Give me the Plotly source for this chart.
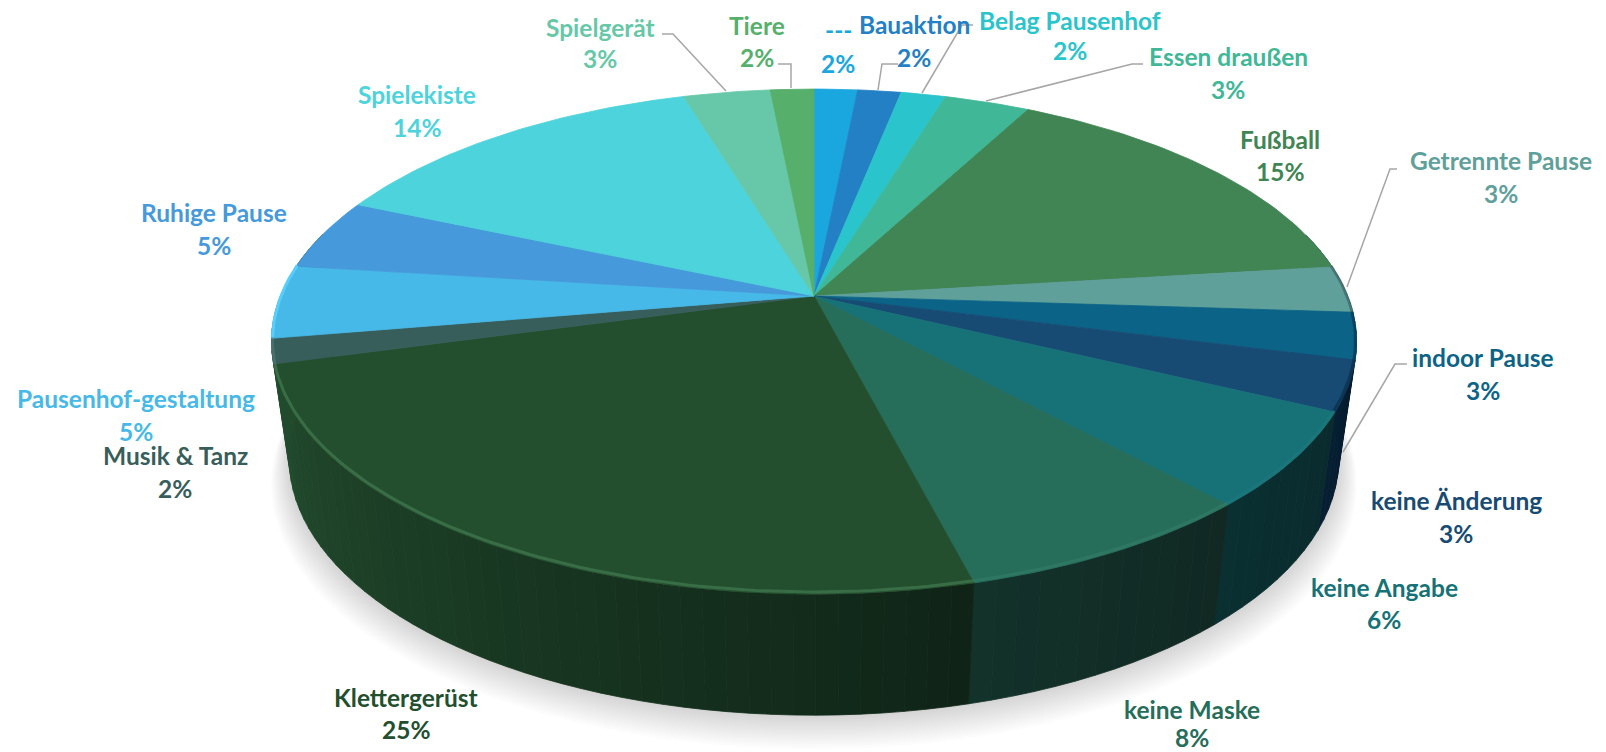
import numpy as np
import plotly.graph_objects as go

# ---- data -------------------------------------------------------------
categories = ["---", "Bauaktion", "Belag Pausenhof", "Essen draußen", "Fußball",
              "Getrennte Pause", "indoor Pause", "keine Änderung", "keine Angabe",
              "keine Maske", "Klettergerüst", "Musik & Tanz", "Pausenhof-gestaltung",
              "Ruhige Pause", "Spielekiste", "Spielgerät", "Tiere"]
values = [1.55, 1.55, 1.6, 3.05, 15.45, 3.0, 3.0, 3.2, 6.1, 7.8, 24.85, 1.6, 4.7, 4.6, 13.9, 3.1, 1.55]

# ---- style ------------------------------------------------------------
top_colors = ["#1AA7E0", "#2480C5", "#2AC4CC", "#40B897", "#408553", "#60A09B", "#0B6488",
              "#174B74", "#167277", "#266D5A", "#234F2F", "#385E5C", "#46B9E8", "#4699DB",
              "#4CD3DB", "#66C8A8", "#56AF6B"]
label_colors = list(top_colors)
wall_left = ["#0A3A50"] * 5 + ["#06303F", "#06263C", "#061F33", "#0A3031", "#12322A", "#224B2D",
              "#224B2D", "#224B2D", "#224B2D"] + ["#0A3A50"] * 3
wall_right = ["#0A3A50"] * 5 + ["#06303F", "#06263C", "#061B2E", "#0A2B2E", "#112823", "#0F2417",
              "#224B2D", "#224B2D", "#224B2D"] + ["#0A3A50"] * 3
rim_colors = [None, None, None, None, None, "rgba(30,60,60,0.4)", "rgba(0,20,40,0.4)",
              "rgba(0,20,40,0.4)", "rgba(40,130,130,0.25)", "rgba(70,150,125,0.25)", "rgba(70,130,85,0.6)",
              "rgba(90,140,135,0.4)", "rgba(90,210,255,0.9)", None, None, None, None]
label_pos = [(838, 29, 63), (914, 24, 57), (1070, 20, 50), (1228, 56, 89), (1280, 139, 171),
             (1501, 160, 193), (1483, 357, 390), (1456, 500, 533), (1384, 587, 619),
             (1192, 709, 737), (406, 697, 729), (175, 455, 488), (136, 398, 431),
             (214, 212, 245), (417, 94, 127), (600, 27, 58), (757, 25, 57)]
leaders = [[(662, 34), (673, 34), (726, 91)], [(778, 64), (791, 64), (791, 88)],
           [(898, 64), (882, 64), (878, 90)], [(973, 25), (962, 25), (922, 93)],
           [(1143, 64), (1132, 64), (986, 101)], [(1397, 169), (1390, 169), (1347, 287)],
           [(1407, 364), (1395, 364), (1343, 452)]]

CX = 814
K = 0.1806
TOP = dict(cy=296.0, R=533.6, H=244.3)
BOT = dict(cy=413.0, R=516.0, H=247.6)


def project(theta, cy, R, H):
    """Perspective projection of the unit circle, clockwise from 12 o'clock."""
    u, v = np.sin(theta), np.cos(theta)
    w = 1 + K * v
    return CX + R * u / w, cy - H * v / w


def hex2rgb(c):
    return np.array([int(c[i:i + 2], 16) for i in (1, 3, 5)], float)


def mix(a, b, t):
    c = hex2rgb(a) * (1 - t) + hex2rgb(b) * t
    return "rgb(%d,%d,%d)" % tuple(c.round())


shares = np.array(values) / sum(values)
edges = np.concatenate([[0], np.cumsum(shares)]) * 2 * np.pi

fig = go.Figure()


def poly(x, y, color, line=None):
    fig.add_trace(go.Scatter(x=list(x), y=list(y), mode="lines", fill="toself", fillcolor=color,
                             line=dict(color=line or color, width=0.8), hoverinfo="skip", showlegend=False))


# soft shadow under the body
t = np.linspace(0, 2 * np.pi, 180)
for i in range(1, 15):
    x, y = project(t, BOT["cy"] + i * 1.7, BOT["R"] + i * 1.3, BOT["H"] + i * 0.6)
    poly(x, y, "rgba(0,0,0,0.011)", "rgba(0,0,0,0)")

# side wall, in thin strips for the shading
for a, b, cl, cr in zip(edges[:-1], edges[1:], wall_left, wall_right):
    n = max(2, int((b - a) / np.radians(2.0)))
    grid = np.linspace(a, b, n + 1)
    for j in range(n):
        th = np.linspace(grid[j], grid[j + 1], 4)
        if np.cos(th).mean() > 0.25:
            continue
        xt, yt = project(th, **TOP)
        xb, yb = project(th[::-1], **BOT)
        col = mix(cl, cr, 1 - (j + 0.5) / n)
        poly(np.r_[xt, xb, xt[0]], np.r_[yt, yb, yt[0]], col)

# top face
for a, b, c in zip(edges[:-1], edges[1:], top_colors):
    th = np.linspace(a, b, max(6, int((b - a) / np.radians(1))))
    x, y = project(th, **TOP)
    poly(np.r_[CX, x, CX], np.r_[TOP["cy"], y, TOP["cy"]], c)

# bevel highlight on the rim
for a, b, c in zip(edges[:-1], edges[1:], rim_colors):
    if c is None:
        continue
    th = np.linspace(a, b, max(6, int((b - a) / np.radians(1))))
    x, y = project(th, cy=TOP["cy"] - 1, R=TOP["R"] - 1, H=TOP["H"] - 1)
    fig.add_trace(go.Scatter(x=x, y=y, mode="lines", line=dict(color=c, width=3),
                             hoverinfo="skip", showlegend=False))

# leader lines
for pts in leaders:
    fig.add_trace(go.Scatter(x=[p[0] for p in pts], y=[p[1] for p in pts], mode="lines",
                             line=dict(color="#A6A6A6", width=1.5), hoverinfo="skip", showlegend=False))

# labels
for name, v, c, (lx, y1, y2) in zip(categories, shares, label_colors, label_pos):
    for txt, yy in ((name, y1), ("%d%%" % round(v * 100), y2)):
        fig.add_annotation(x=lx, y=yy, text="<b>%s</b>" % txt, showarrow=False, xanchor="center",
                           yanchor="middle", font=dict(family="Lato", size=24.5, color=c))

# the page adds an 8px body margin, so the plot area starts 8px in
fig.update_layout(width=1598, height=744, margin=dict(l=0, r=0, t=0, b=0), showlegend=False,
                  paper_bgcolor="white", plot_bgcolor="white",
                  xaxis=dict(range=[8, 1606], visible=False, fixedrange=True),
                  yaxis=dict(range=[752, 8], visible=False, fixedrange=True))
fig.write_html("out.html", config=dict(displayModeBar=False))
